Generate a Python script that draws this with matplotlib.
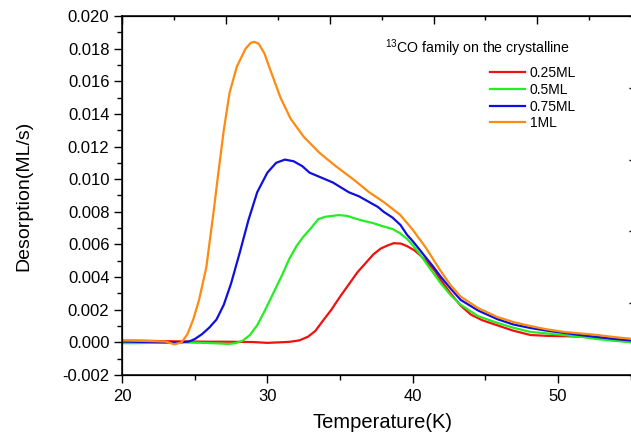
import matplotlib
matplotlib.use("Agg")
import matplotlib.pyplot as plt
from matplotlib.ticker import MultipleLocator, FixedLocator, NullFormatter
import numpy as np

plt.rcParams['font.family'] = ['Liberation Sans', 'DejaVu Sans']
plt.rcParams['mathtext.default'] = 'regular'

# ---- data (Temperature K, Desorption in 1e-3 ML/s) ----
T_r = [20, 21, 22, 23, 24, 25, 26, 27, 28, 29, 30, 30.8, 31.5, 32.2, 32.8, 33.3, 33.8, 34.4, 35.0,
       35.6, 36.2, 36.8, 37.3, 37.8, 38.3, 38.7, 39.2, 39.6, 40.1, 40.5, 41.0, 41.5, 41.9, 42.6,
       43.3, 44.0, 44.8, 45.8, 46.9, 48.1, 49.2, 50.4, 51.5, 52.7, 53.8, 55.2]
D_r = [0.10, 0.10, 0.09, 0.07, 0.06, 0.05, 0.04, 0.04, 0.03, 0.02, -0.03, 0.0, 0.03, 0.12, 0.35,
       0.70, 1.30, 2.00, 2.80, 3.55, 4.30, 4.90, 5.40, 5.75, 5.95, 6.08, 6.05, 5.90, 5.65, 5.35,
       4.90, 4.40, 3.85, 3.00, 2.25, 1.70, 1.35, 1.05, 0.72, 0.45, 0.40, 0.38, 0.35, 0.27, 0.15, 0.0]

T_g = [20, 21, 22, 23, 24, 25, 26, 26.8, 27.3, 27.8, 28.3, 28.8, 29.3, 29.8, 30.4, 31.0, 31.5, 32.0,
       32.5, 33.0, 33.5, 34.0, 34.5, 34.9, 35.5, 36.0, 36.6, 37.3, 38.0, 38.6, 39.1, 39.6, 40.0,
       40.5, 41.0, 41.5, 41.9, 42.6, 43.3, 44.5, 45.8, 46.9, 48.1, 49.2, 50.4, 51.5, 52.7, 53.8, 55.2]
D_g = [-0.05, -0.05, -0.03, -0.02, 0.0, -0.02, -0.04, -0.07, -0.10, -0.05, 0.10, 0.45, 1.05, 1.90,
       3.00, 4.10, 5.10, 5.90, 6.50, 7.00, 7.55, 7.70, 7.75, 7.80, 7.75, 7.60, 7.45, 7.30, 7.10,
       6.95, 6.70, 6.35, 5.95, 5.40, 4.75, 4.15, 3.65, 2.90, 2.30, 1.60, 1.20, 0.90, 0.64, 0.55,
       0.45, 0.35, 0.20, 0.10, 0.0]

T_b = [20, 21, 22, 23, 24, 24.6, 25.0, 25.5, 26.0, 26.5, 27.0, 27.5, 28.1, 28.7, 29.3, 30.0, 30.6,
       31.2, 31.8, 32.4, 32.9, 33.7, 34.5, 35.6, 36.3, 37.0, 37.6, 38.0, 38.6, 39.15, 39.6, 40.0,
       40.5, 40.9, 41.4, 41.9, 42.6, 43.3, 44.5, 45.8, 46.9, 48.1, 49.2, 50.4, 51.5, 52.7, 53.8, 55.2]
D_b = [0.05, 0.03, 0.02, 0.0, 0.0, 0.05, 0.20, 0.50, 0.90, 1.40, 2.30, 3.60, 5.50, 7.50, 9.20,
       10.40, 11.00, 11.20, 11.10, 10.80, 10.40, 10.10, 9.80, 9.20, 8.95, 8.60, 8.30, 8.00, 7.65,
       7.20, 6.60, 6.20, 5.65, 5.20, 4.65, 4.05, 3.30, 2.60, 1.95, 1.43, 1.10, 0.88, 0.72, 0.58,
       0.45, 0.33, 0.22, 0.10]

T_o = [20, 21, 22, 23, 23.6, 24.1, 24.5, 24.9, 25.3, 25.8, 26.3, 26.6, 27.0, 27.4, 27.9, 28.5,
       28.85, 29.1, 29.4, 29.8, 30.2, 30.9, 31.6, 32.5, 33.6, 34.7, 35.9, 37.0, 38.0, 39.15, 40.0,
       40.9, 41.9, 42.6, 43.3, 44.5, 45.8, 46.9, 48.1, 49.2, 50.4, 51.5, 52.7, 53.8, 55.2]
D_o = [0.12, 0.10, 0.08, 0.05, -0.12, 0.0, 0.50, 1.40, 2.60, 4.60, 8.00, 10.20, 13.00, 15.30,
       16.90, 18.00, 18.35, 18.42, 18.30, 17.70, 16.70, 15.00, 13.70, 12.60, 11.60, 10.80, 10.00,
       9.20, 8.60, 7.80, 6.90, 5.80, 4.40, 3.50, 2.80, 2.10, 1.56, 1.25, 1.00, 0.80, 0.64, 0.55,
       0.45, 0.33, 0.20]

labels = ['0.25ML', '0.5ML', '0.75ML', '1ML']
colors = ['#f01010', '#22ee22', '#1010dd', '#ff8a10']
series = [(T_r, D_r), (T_g, D_g), (T_b, D_b), (T_o, D_o)]

fig = plt.figure(figsize=(6.31, 4.33), dpi=100)
W, H = 631, 433
ax = fig.add_axes([122 / W, (H - 375) / H, (633 - 122) / W, (375 - 16) / H])

for (t, d), lab, c in zip(series, labels, colors):
    ax.plot(t, np.array(d) * 1e-3, color=c, lw=1.6, label=lab)

ax.set_xlim(20, 55.15)
ax.set_ylim(-0.002, 0.020)
ax.xaxis.set_major_locator(MultipleLocator(10))
ax.xaxis.set_minor_locator(MultipleLocator(5))
ax.yaxis.set_major_locator(MultipleLocator(0.002))
ax.yaxis.set_minor_locator(MultipleLocator(0.001))
ax.yaxis.set_major_formatter(matplotlib.ticker.FormatStrFormatter('%.3f'))
ax.tick_params(which='major', direction='out', length=6, width=1.0, labelsize=12, pad=3)
ax.tick_params(which='minor', direction='out', length=3.5, width=1.0)
ax.tick_params(axis='x', which='major', pad=4)
ax.tick_params(top=False, right=False, which='both')
for s in ax.spines.values():
    s.set_linewidth(1.1)

ax.set_xlabel('Temperature(K)', fontsize=14.5)
ax.set_ylabel('Desorption(ML/s)', fontsize=14)
ax.xaxis.set_label_coords(0.51, -0.105)
ax.yaxis.set_label_coords(-0.175, 0.5)

# top axis ticks (inward)
axt = ax.twiny()
axt.set_xlim(ax.get_xlim())
step = 50 / 7
axt.xaxis.set_major_locator(FixedLocator([20 + k * step for k in range(6)]))
axt.xaxis.set_minor_locator(FixedLocator([20 + (k + 0.5) * step for k in range(5)]))
axt.xaxis.set_major_formatter(NullFormatter())
axt.tick_params(which='major', direction='in', length=6, width=1.0)
axt.tick_params(which='minor', direction='in', length=3, width=1.0)

# right axis ticks (inward)
axr = ax.twinx()
axr.set_ylim(0, 5)
axr.yaxis.set_major_locator(FixedLocator([0, 1, 2, 3, 4, 5]))
axr.yaxis.set_major_formatter(NullFormatter())
axr.tick_params(direction='in', length=3, width=1.0)

fig.text(385 / W, 1 - 48 / H, '$^{13}$CO family on the crystalline', fontsize=10.2,
         va='center', ha='left')
leg = ax.legend(loc='upper left', bbox_to_anchor=(490 / W, 1 - 66 / H),
                bbox_transform=fig.transFigure, frameon=False, fontsize=10,
                handlelength=2.5, handletextpad=0.35, labelspacing=0.2,
                borderpad=0, borderaxespad=0)

fig.savefig('out.png', dpi=100)
